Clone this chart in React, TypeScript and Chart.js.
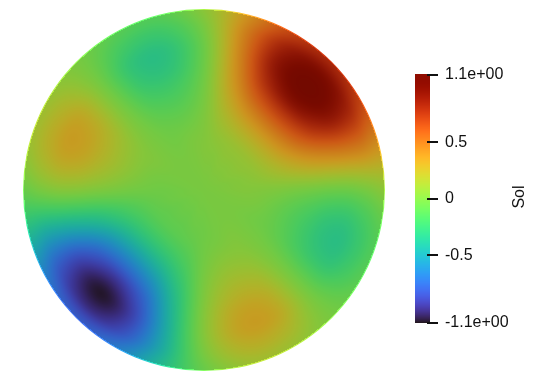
import React, { useEffect, useRef } from 'react';
import { Chart, registerables } from 'chart.js';

Chart.register(...registerables);

// ---- Data: "Sol" field sampled on a polar mesh of the unit disk ----
// ring radii (fraction of the disk radius)
const RADII = [0, 0.2, 0.3, 0.4, 0.5, 0.6, 0.7, 0.8, 0.9, 1.0];
// node angles in degrees, counter-clockwise from +x
const ANGLES_DEG = [0, 15, 30, 45, 60, 75, 90, 105, 120, 135, 150, 165, 180, 195, 210, 225, 240, 255, 270, 285, 300, 315, 330, 345];

const SOL_R00 = [0, 0, 0, 0, 0, 0, 0, 0, 0, 0, 0, 0, 0, 0, 0, 0, 0, 0, 0, 0, 0, 0, 0, 0];
const SOL_R02 = [0.03, 0.04, 0.06, 0.06, 0.06, 0.04, 0.03, 0.01, 0, 0, 0, -0.01, -0.03, -0.04, -0.06, -0.06, -0.06, -0.04, -0.03, -0.01, 0, 0, 0, 0.01];
const SOL_R03 = [0.03, 0.08, 0.11, 0.12, 0.11, 0.08, 0.03, 0, -0.02, 0, 0.02, 0, -0.03, -0.08, -0.11, -0.12, -0.11, -0.08, -0.03, 0, 0.02, 0, -0.02, 0];
const SOL_R04 = [0.02, 0.15, 0.24, 0.27, 0.24, 0.15, 0.02, -0.05, -0.05, 0, 0.05, 0.05, -0.02, -0.15, -0.24, -0.27, -0.24, -0.15, -0.02, 0.05, 0.05, 0, -0.05, -0.05];
const SOL_R05 = [0, 0.24, 0.42, 0.48, 0.42, 0.24, 0, -0.12, -0.11, 0, 0.11, 0.12, 0, -0.24, -0.42, -0.48, -0.42, -0.24, 0, 0.12, 0.11, 0, -0.11, -0.12];
const SOL_R06 = [-0.02, 0.33, 0.62, 0.72, 0.62, 0.33, -0.02, -0.2, -0.19, 0, 0.19, 0.2, 0.02, -0.33, -0.62, -0.72, -0.62, -0.33, 0.02, 0.2, 0.19, 0, -0.19, -0.2];
const SOL_R07 = [-0.04, 0.4, 0.8, 0.96, 0.8, 0.4, -0.04, -0.28, -0.26, 0, 0.26, 0.28, 0.04, -0.4, -0.8, -0.96, -0.8, -0.4, 0.04, 0.28, 0.26, 0, -0.26, -0.28];
const SOL_R08 = [-0.04, 0.45, 0.9, 1.08, 0.9, 0.45, -0.04, -0.3, -0.28, 0, 0.28, 0.3, 0.04, -0.45, -0.9, -1.08, -0.9, -0.45, 0.04, 0.3, 0.28, 0, -0.28, -0.3];
const SOL_R09 = [0, 0.46, 0.85, 1.0, 0.85, 0.46, 0, -0.22, -0.2, 0, 0.2, 0.22, 0, -0.46, -0.85, -1.0, -0.85, -0.46, 0, 0.22, 0.2, 0, -0.2, -0.22];
const SOL_R10 = [0.06, 0.4, 0.69, 0.8, 0.69, 0.4, 0.06, -0.12, -0.11, 0, 0.11, 0.12, -0.06, -0.4, -0.69, -0.8, -0.69, -0.4, -0.06, 0.12, 0.11, 0, -0.11, -0.12];

const SOL_RINGS = [SOL_R00, SOL_R02, SOL_R03, SOL_R04, SOL_R05, SOL_R06, SOL_R07, SOL_R08, SOL_R09, SOL_R10];

// colour bar
const RANGE_MIN = -1.1;
const RANGE_MAX = 1.1;
const TICK_VALUES = [-1.1, -0.5, 0, 0.5, 1.1];
const TICK_LABELS = ['-1.1e+00', '-0.5', '0', '0.5', '1.1e+00'];
const FIELD_TITLE = 'Sol';

const FONT_FAMILY = "'Liberation Sans', Arial, sans-serif";
const SHADE = 0.8;

function turbo(t: number): [number, number, number] {
  const x = Math.min(1, Math.max(0, t));
  const r = 0.13572138 + x * (4.6153926 + x * (-42.66032258 + x * (132.13108234 + x * (-152.94239396 + x * 59.28637943))));
  const g = 0.09140261 + x * (2.19418839 + x * (4.84296658 + x * (-14.18503333 + x * (4.27729857 + x * 2.82956604))));
  const b = 0.1066733 + x * (12.64194608 + x * (-60.58204836 + x * (110.36276771 + x * (-89.90310912 + x * 27.34824973))));
  const c = (v: number) => Math.round(255 * Math.min(1, Math.max(0, v)));
  return [c(r), c(g), c(b)];
}

function catmull(p0: number, p1: number, p2: number, p3: number, t: number) {
  return 0.5 * (2 * p1 + (-p0 + p2) * t + (2 * p0 - 5 * p1 + 4 * p2 - p3) * t * t + (-p0 + 3 * p1 - 3 * p2 + p3) * t * t * t);
}

function sampleField(r: number, thetaDeg: number) {
  const nR = RADII.length;
  let i = 0;
  let fr = 0;
  if (r >= RADII[nR - 1]) {
    i = nR - 2;
    fr = 1;
  } else {
    while (i < nR - 2 && r > RADII[i + 1]) i++;
    fr = (r - RADII[i]) / (RADII[i + 1] - RADII[i]);
  }
  const nA = ANGLES_DEG.length;
  const step = 360 / nA;
  const a = (((thetaDeg % 360) + 360) % 360) / step;
  const k = Math.floor(a);
  const fa = a - k;
  const ringVal = (ri: number) => {
    const ring = SOL_RINGS[Math.max(0, Math.min(nR - 1, ri))];
    return catmull(ring[(k - 1 + nA) % nA], ring[k % nA], ring[(k + 1) % nA], ring[(k + 2) % nA], fa);
  };
  return catmull(ringVal(i - 1), ringVal(i), ringVal(i + 1), ringVal(i + 2), fr);
}

const diskPlugin = {
  id: 'solDisk',
  afterDraw(chart: any) {
    const { ctx } = chart;
    const xs = chart.scales.x;
    const ys = chart.scales.y;
    const x0 = Math.floor(xs.getPixelForValue(-1)) - 1;
    const x1 = Math.ceil(xs.getPixelForValue(1)) + 1;
    const y0 = Math.floor(ys.getPixelForValue(1)) - 1;
    const y1 = Math.ceil(ys.getPixelForValue(-1)) + 1;
    const cx = xs.getPixelForValue(0);
    const cy = ys.getPixelForValue(0);
    const rad = xs.getPixelForValue(1) - cx;
    const rimStart = 1 - 1.2 / rad;
    const w = x1 - x0;
    const h = y1 - y0;
    const off = document.createElement('canvas');
    off.width = w;
    off.height = h;
    const octx = off.getContext('2d')!;
    const img = octx.createImageData(w, h);
    for (let py = 0; py < h; py++) {
      const v = ys.getValueForPixel(y0 + py + 0.5);
      for (let px = 0; px < w; px++) {
        const u = xs.getValueForPixel(x0 + px + 0.5);
        const r = Math.sqrt(u * u + v * v);
        if (r > 1.05) continue;
        const th = (Math.atan2(v, u) * 180) / Math.PI;
        const val = sampleField(r, th);
        const [cr, cg, cb] = turbo((val - RANGE_MIN) / (RANGE_MAX - RANGE_MIN));
        const s = r > rimStart ? 1 : SHADE;
        const idx = (py * w + px) * 4;
        img.data[idx] = cr * s;
        img.data[idx + 1] = cg * s;
        img.data[idx + 2] = cb * s;
        img.data[idx + 3] = 255;
      }
    }
    octx.putImageData(img, 0, 0);
    ctx.save();
    ctx.beginPath();
    ctx.arc(cx, cy, rad, 0, Math.PI * 2);
    ctx.clip();
    ctx.drawImage(off, x0, y0);
    ctx.restore();
  },
};

const colorBarPlugin = {
  id: 'solColorBar',
  afterDraw(chart: any) {
    const { ctx, chartArea } = chart;
    const ys = chart.scales.y;
    for (let py = Math.floor(chartArea.top); py < Math.ceil(chartArea.bottom); py++) {
      const v = ys.getValueForPixel(py + 0.5);
      const [r, g, b] = turbo((v - RANGE_MIN) / (RANGE_MAX - RANGE_MIN));
      ctx.fillStyle = `rgb(${r},${g},${b})`;
      ctx.fillRect(chartArea.left, py, chartArea.right - chartArea.left, 1);
    }
    ctx.save();
    ctx.strokeStyle = '#111';
    ctx.lineWidth = 2;
    TICK_VALUES.forEach((tv) => {
      const y = Math.round(ys.getPixelForValue(tv));
      ctx.beginPath();
      ctx.moveTo(chartArea.right - 3, y);
      ctx.lineTo(chartArea.right + 8, y);
      ctx.stroke();
    });
    ctx.translate(120, 147);
    ctx.rotate(-Math.PI / 2);
    ctx.fillStyle = '#111';
    ctx.font = `16px ${FONT_FAMILY}`;
    ctx.textAlign = 'center';
    ctx.textBaseline = 'middle';
    ctx.fillText(FIELD_TITLE, 0, 0);
    ctx.restore();
  },
};

export default function App() {
  const diskRef = useRef<HTMLCanvasElement>(null);
  const barRef = useRef<HTMLCanvasElement>(null);

  useEffect(() => {
    document.body.style.margin = '0';
    const disk = new Chart(diskRef.current!, {
      type: 'scatter',
      data: { datasets: [{ data: [] }] },
      options: {
        responsive: false,
        animation: false,
        events: [],
        layout: { padding: { left: 23, right: 168, top: 9, bottom: 17 } },
        plugins: { legend: { display: false }, tooltip: { enabled: false } },
        scales: {
          x: { type: 'linear', min: -1, max: 1, display: false },
          y: { type: 'linear', min: -1, max: 1, display: false },
        },
      },
      plugins: [diskPlugin],
    } as any);

    const bar = new Chart(barRef.current!, {
      type: 'scatter',
      data: { datasets: [{ data: [] }] },
      options: {
        responsive: false,
        animation: false,
        events: [],
        layout: { padding: { left: 15, right: 0, top: 24, bottom: 27 } },
        plugins: { legend: { display: false }, tooltip: { enabled: false } },
        scales: {
          x: { type: 'linear', min: 0, max: 1, display: false },
          y: {
            type: 'linear',
            position: 'right',
            min: RANGE_MIN,
            max: RANGE_MAX,
            grid: { display: false, drawTicks: false },
            border: { display: false },
            afterBuildTicks: (s: any) => {
              s.ticks = TICK_VALUES.map((v) => ({ value: v }));
            },
            afterFit: (s: any) => {
              s.width = 123;
            },
            ticks: {
              padding: 15,
              color: '#111',
              font: { family: FONT_FAMILY, size: 16 },
              callback: (v: any) => {
                const i = TICK_VALUES.findIndex((t) => Math.abs(t - Number(v)) < 1e-9);
                return i >= 0 ? TICK_LABELS[i] : '';
              },
            },
          },
        },
      },
      plugins: [colorBarPlugin],
    } as any);

    return () => {
      disk.destroy();
      bar.destroy();
    };
  }, []);

  return (
    <div style={{ position: 'absolute', left: 0, top: 0, width: 553, height: 388, background: '#fff' }}>
      <canvas ref={diskRef} width={553} height={388} style={{ position: 'absolute', left: 0, top: 0 }} />
      <canvas ref={barRef} width={153} height={300} style={{ position: 'absolute', left: 400, top: 50 }} />
    </div>
  );
}
